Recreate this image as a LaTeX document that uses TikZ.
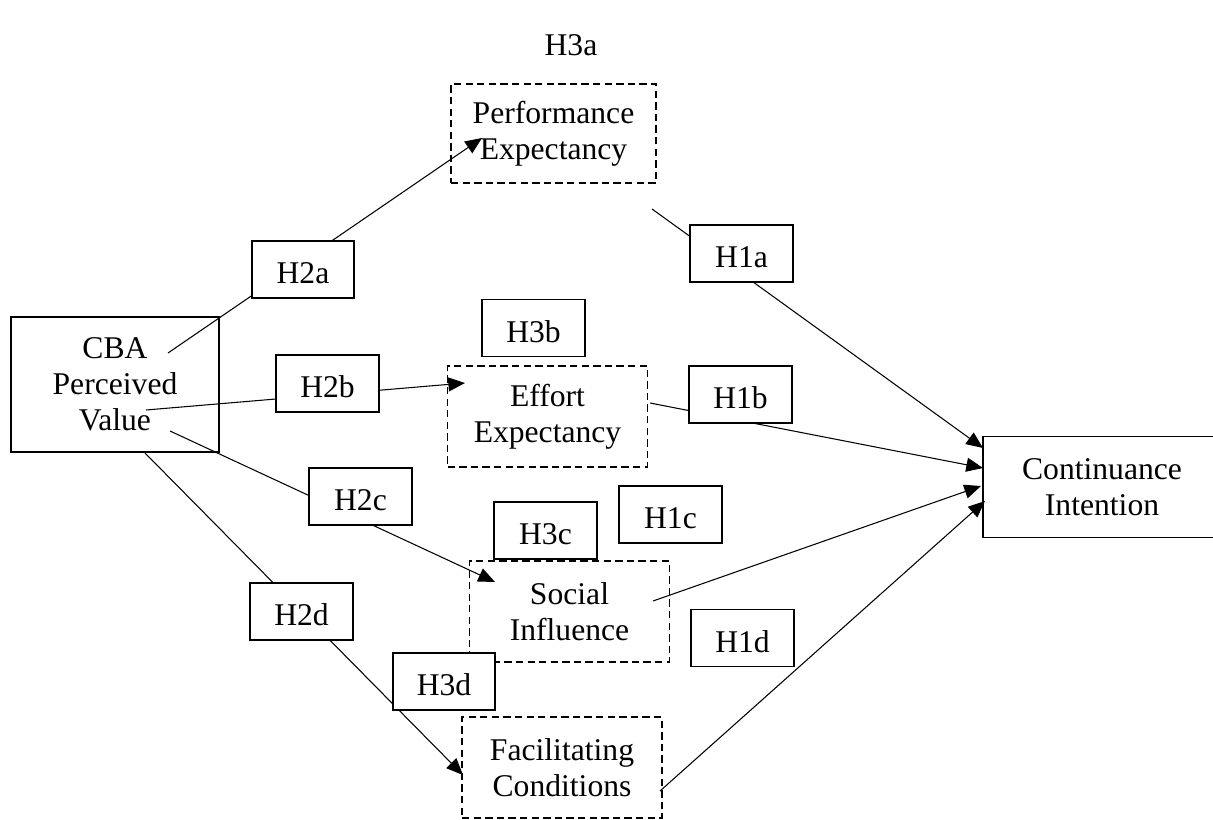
\documentclass[tikz,border=0pt]{standalone}
\usepackage{fontspec}
\setmainfont{Liberation Serif}
\usetikzlibrary{arrows.meta,calc}

\begin{document}
\begin{tikzpicture}[x=0.02cm,y=-0.02cm,>={Triangle[length=9.5pt,width=8pt]},
  every node/.style={font=\fontsize{18}{20.4}\selectfont,align=center,inner sep=0pt},
  solidbox/.style={draw,line width=1pt,minimum height=2.02cm},
  construct/.style={draw,dash pattern=on 4.2pt off 2.4pt,line width=1pt,minimum width=4cm,minimum height=2.02cm},
  hyp/.style={draw,fill=white,line width=1pt,minimum width=2.05cm,minimum height=1.14cm,text height=16pt,text depth=0pt},
  link/.style={line width=0.6pt}]
\clip (0,0) rectangle (1213,820);

% constructs
\node[solidbox,minimum width=4.16cm,minimum height=2.7cm] (cba) at (115,384.5) {CBA\\Perceived\\Value};
\node[construct,minimum width=4.1cm,minimum height=1.98cm] (pe) at (553.5,133.5) {Performance\\Expectancy};
\node[construct] (ee) at (547.5,416.5) {Effort\\Expectancy};
\node[construct] (si) at (569.5,611.5) {Social\\Influence};
\node[construct] (fc) at (562,767.5) {Facilitating\\Conditions};
\node[solidbox,minimum width=4.76cm] (ci) at (1102,487) {Continuance\\Intention};
\node (h3a) at (571,45) {H3a};

% line ends
\coordinate (cba-a) at (168,353);
\coordinate (cba-b) at (146,410);
\coordinate (cba-c) at (170,431);
\coordinate (cba-d) at (145,453);
\coordinate (pe-in) at (482,138);
\coordinate (ee-in) at (465,383);
\coordinate (si-in) at (495,582);
\coordinate (fc-in) at (463,775);
\coordinate (pe-out) at (652,209);
\coordinate (ee-out) at (650,403);
\coordinate (si-out) at (653,601);
\coordinate (fc-out) at (660,791);
\coordinate (ci-a) at (983,448);
\coordinate (ci-b) at (983,468);
\coordinate (ci-c) at (981,486);
\coordinate (ci-d) at (985,501);

\draw[link,->] (cba-a) -- (pe-in);
\draw[link,->] (cba-b) -- (ee-in);
\draw[link,->] (cba-c) -- (si-in);
\draw[link,->] (cba-d) -- (fc-in);
\draw[link,->] (pe-out) -- (ci-a);
\draw[link,->] (ee-out) -- (ci-b);
\draw[link,->] (si-out) -- (ci-c);
\draw[link,->] (fc-out) -- (ci-d);

% hypothesis labels
\node[hyp] (h2a) at (303,269.5) {H2a};
\node[hyp] (h2b) at (327.5,383.5) {H2b};
\node[hyp] (h2c) at (360.5,496.5) {H2c};
\node[hyp] (h2d) at (301.5,611.5) {H2d};
\node[hyp] (h1a) at (741.5,253.5) {H1a};
\node[hyp] (h1b) at (740.5,394.5) {H1b};
\node[hyp] (h1c) at (670.5,514.5) {H1c};
\node[hyp] (h1d) at (742.5,638) {H1d};
\node[hyp] (h3b) at (533.5,328) {H3b};
\node[hyp] (h3c) at (545.5,530.5) {H3c};
\node[hyp] (h3d) at (444,681.5) {H3d};
\end{tikzpicture}
\end{document}
